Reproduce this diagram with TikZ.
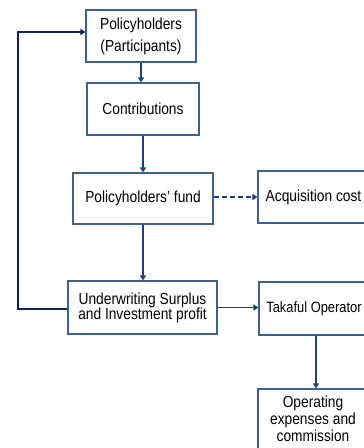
\documentclass[tikz,border=0pt]{standalone}
\usepackage{fontspec}
\setmainfont[FakeStretch=0.86]{Liberation Sans}
\usetikzlibrary{arrows.meta}

\definecolor{boxline}{RGB}{62,96,148}
\definecolor{flowline}{RGB}{30,65,125}
\definecolor{loopline}{RGB}{12,36,100}

\begin{document}
\begin{tikzpicture}[x=1pt, y=-1pt,
  box/.style={draw=boxline, line width=1.1pt, rectangle, align=center, inner sep=2pt,
    font=\fontsize{16}{16}\selectfont},
  flow/.style={draw=flowline, line width=1.4pt, -{Triangle[length=5pt,width=6pt]}}]

  \useasboundingbox (0,0) rectangle (364,448);
  \clip (0,0) rectangle (364,448);

  % Main column
  \node[box, minimum width=110pt, minimum height=52pt, font=\fontsize{16}{22}\selectfont] (holders) at (141,36) {Policyholders\\(Participants)};
  \node[box, minimum width=112pt, minimum height=52pt] (contrib) at (143,109) {Contributions};
  \node[box, minimum width=140pt, minimum height=51pt] (fund) at (143,198.5) {Policyholders' fund};
  \node[box, minimum width=149pt, minimum height=53pt, font=\fontsize{16}{15}\selectfont] (surplus) at (142.5,307.5) {Underwriting Surplus\\and Investment profit};

  % Right column
  \node[box, minimum width=111pt, minimum height=52pt] (acq) at (313.5,197) {Acquisition cost};
  \node[box, minimum width=110pt, minimum height=53pt, font=\fontsize{15}{16}\selectfont] (operator) at (314,308.5) {Takaful Operator};
  \node[box, minimum width=110pt, minimum height=60pt, font=\fontsize{16}{17}\selectfont] (expenses) at (313,419) {Operating\\expenses and\\commission};

  % Arrows
  \draw[flow] (holders.south) -- (holders.south |- contrib.north);
  \draw[flow] (contrib.south) -- (contrib.south |- fund.north);
  \draw[flow] (fund.south) -- (fund.south |- surplus.north);
  \draw[flow, dashed, dash pattern=on 5pt off 3pt] (fund.east |- acq.west) -- (acq.west);
  \draw[flow] (surplus.east) -- (surplus.east -| operator.west);
  \draw[flow] ([xshift=2pt]operator.south) -- ([xshift=2pt]operator.south |- expenses.north);

  % Back to the policyholders
  \coordinate (turn) at (18,309);
  \draw[flow, draw=loopline] ([yshift=-1.5pt]surplus.west) -- (turn) |- ([yshift=4pt]holders.west);
\end{tikzpicture}
\end{document}
